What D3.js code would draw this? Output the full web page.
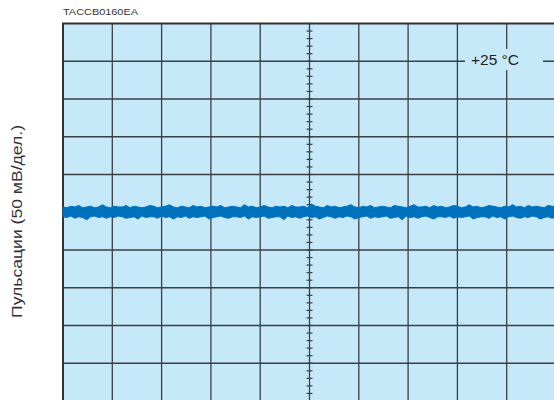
<!DOCTYPE html>
<html><head><meta charset="utf-8">
<script src="https://cdn.jsdelivr.net/npm/d3@7"></script>
<style>body{margin:0;background:#fff}svg{display:block}</style>
</head><body>
<script>
const figureId = "TACCB0160EA";
const yLabel = "Пульсации (50 мВ/дел.)";
const tempLabel = "+25 °C";
const divisionsX = 10, divisionsY = 10;
const mVperDiv = 50;
// ripple envelope (mV), upper and lower, sampled evenly across the screen
const upper = [7,6,8,7,9,6,7,8,6,7,10,7,6,8,7,7,9,6,8,7,6,7,9,8,6,7,8,10,7,6,8,7,6,9,7,8,6,7,8,7,9,6,7,8,7,6,10,7,8,6,7,9,7,6,8,7,8,6,9,7,7,8,6,11,8,7,6,9,7,8,6,7,8,10,7,6,8,7,9,6,7,8,7,6,9,8,7,6,8,10,7,7,8,6,9,7,8,6,7,9,8,6,7,10,7,8,6,7,9,8,7,6,8,7,10,7,8,6,9,7,8,7,6,9,8,7];
const lower = [-6,-7,-5,-8,-6,-7,-10,-6,-5,-7,-6,-8,-6,-7,-5,-6,-8,-7,-6,-9,-5,-7,-6,-6,-8,-5,-7,-6,-9,-6,-7,-5,-8,-6,-7,-6,-5,-9,-7,-6,-5,-7,-8,-6,-6,-7,-5,-9,-6,-7,-6,-5,-8,-7,-6,-6,-10,-5,-7,-6,-8,-6,-5,-7,-6,-9,-7,-5,-6,-8,-6,-7,-5,-6,-9,-7,-6,-5,-8,-6,-7,-6,-5,-8,-7,-6,-10,-5,-7,-6,-8,-6,-5,-7,-9,-6,-6,-7,-5,-8,-6,-7,-6,-5,-9,-7,-6,-6,-8,-5,-7,-6,-9,-6,-5,-7,-8,-6,-7,-5,-6,-9,-7,-6,-8,-6];

const W = 554, H = 400;
const mLeft = 63, mTop = 23.5, divW = 49.3, divH = 37.75;
const pw = divW*divisionsX, ph = divH*divisionsY;

const svg = d3.select("body").append("svg").attr("width", W).attr("height", H)
  .style("font-family", "'Liberation Sans', Arial, sans-serif");

const x = d3.scaleLinear().domain([0, divisionsX]).range([mLeft, mLeft+pw]);
const y = d3.scaleLinear().domain([-mVperDiv*divisionsY/2, mVperDiv*divisionsY/2]).range([mTop+ph, mTop]);
const xi = d3.scaleLinear().domain([0, upper.length-1]).range([0, divisionsX]);

svg.append("rect").attr("x", mLeft).attr("y", mTop).attr("width", pw).attr("height", ph).attr("fill", "#c6e9fa");

const g = svg.append("g");
const gridColor = "#3a3f44";
d3.range(1, divisionsX).forEach(i => {
  g.append("line").attr("x1", x(i)).attr("x2", x(i)).attr("y1", mTop).attr("y2", mTop+ph)
    .attr("stroke", gridColor).attr("stroke-width", 1.3);
});
const yTicks = d3.range(-divisionsY/2+1, divisionsY/2).map(k => k*mVperDiv);
yTicks.forEach(v => {
  g.append("line").attr("x1", mLeft).attr("x2", mLeft+pw).attr("y1", y(v)).attr("y2", y(v))
    .attr("stroke", gridColor).attr("stroke-width", 1.3);
});
// minor ticks on central vertical axis
const minor = d3.range(0, divisionsY*5+1).map(k => -mVperDiv*divisionsY/2 + k*mVperDiv/5);
minor.forEach(v => {
  g.append("line").attr("x1", x(5)-3).attr("x2", x(5)+3).attr("y1", y(v)).attr("y2", y(v))
    .attr("stroke", gridColor).attr("stroke-width", 1.2);
});
// minor ticks on central horizontal axis
d3.range(0, divisionsX*5+1).forEach(k => {
  g.append("line").attr("x1", x(k/5)).attr("x2", x(k/5)).attr("y1", y(0)-3).attr("y2", y(0)+3)
    .attr("stroke", gridColor).attr("stroke-width", 1.2);
});

// border
svg.append("rect").attr("x", mLeft).attr("y", mTop).attr("width", pw).attr("height", ph)
  .attr("fill", "none").attr("stroke", "#333").attr("stroke-width", 2);

// waveform
const area = d3.area().x((d,i) => x(xi(i))).y0((d,i) => y(lower[i])).y1(d => y(d)).curve(d3.curveLinear);
svg.append("path").datum(upper).attr("d", area).attr("fill", "#0071bd").attr("stroke", "#0071bd").attr("stroke-width", 1);

// temperature label
svg.append("rect").attr("x", 465).attr("y", 49).attr("width", 78).attr("height", 21).attr("fill", "#c6e9fa");
svg.append("text").attr("x", 471).attr("y", 65).attr("font-size", 15.5).attr("textLength", 48)
  .attr("lengthAdjust", "spacingAndGlyphs").attr("fill", "#222").text(tempLabel);

svg.append("text").attr("x", mLeft).attr("y", 15).attr("font-size", 8.5).attr("textLength", 75)
  .attr("lengthAdjust", "spacingAndGlyphs").attr("fill", "#333").text(figureId);

svg.append("text").attr("transform", `translate(21.5,221.5) rotate(-90)`).attr("text-anchor", "middle")
  .attr("font-size", 15.5).attr("textLength", 193).attr("lengthAdjust", "spacingAndGlyphs")
  .attr("fill", "#333").text(yLabel);
</script>
</body></html>
